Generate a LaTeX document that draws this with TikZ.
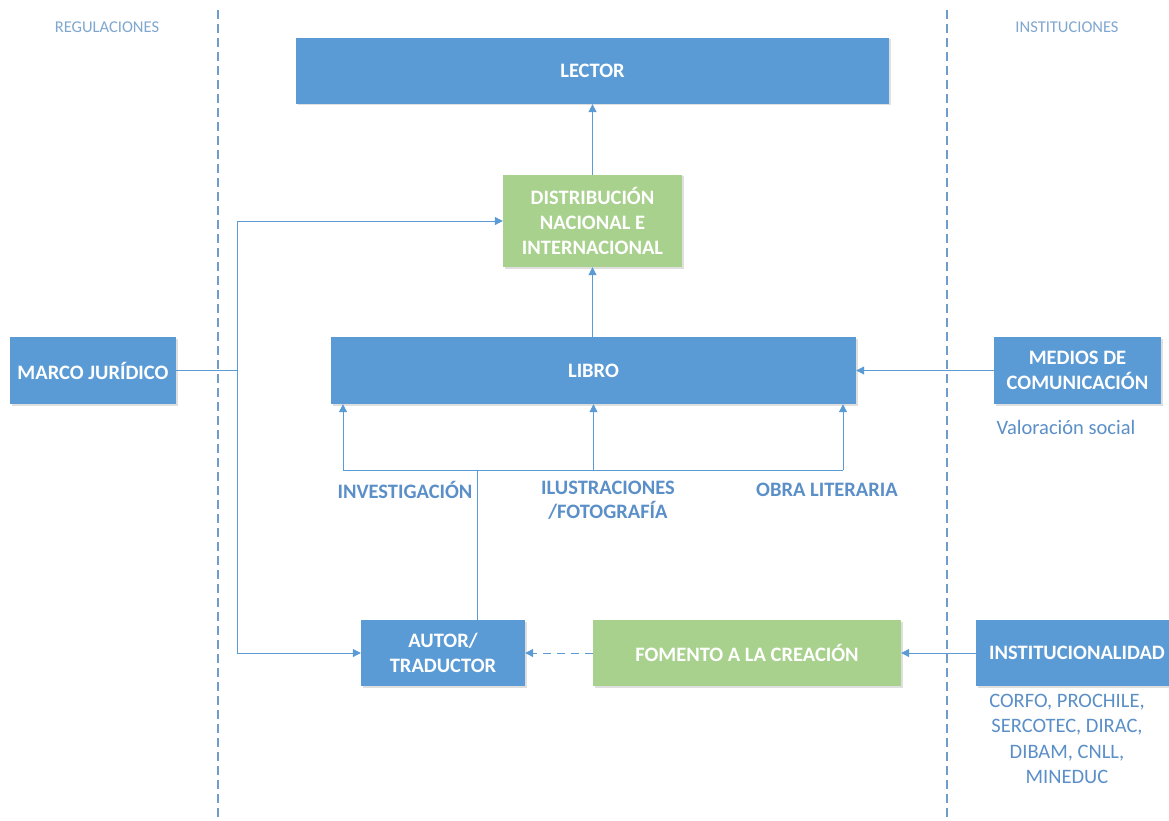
\documentclass[tikz,border=0pt]{standalone}
\usepackage{fontspec}
\setmainfont{Carlito}
\usetikzlibrary{arrows.meta,shadows}
\definecolor{cblue}{HTML}{5B9BD5}
\definecolor{cgreen}{HTML}{A9D18E}
\definecolor{lblue}{HTML}{7FA7CF}
\definecolor{tblue}{HTML}{5B8FC8}
\definecolor{sepc}{HTML}{6F9CCB}
\tikzset{
 box/.style={fill=cblue, text=white, font=\bfseries\fontsize{20.5}{25}\selectfont, align=center, inner sep=0pt,
   drop shadow={opacity=0.25,shadow xshift=1.5pt,shadow yshift=-1.5pt}},
 gbox/.style={box, fill=cgreen},
 conn/.style={draw=cblue, line width=1pt},
 arr/.style={conn, -{Triangle[width=8pt,length=8pt]}},
 sep/.style={draw=sepc, line width=1.2pt, dash pattern=on 9pt off 5pt},
 lab/.style={text=tblue, font=\bfseries\fontsize{20.5}{24}\selectfont, align=center},
 note/.style={text=tblue, font=\fontsize{20.5}{25.5}\selectfont, align=center},
 head/.style={text=lblue, font=\fontsize{16.5}{18}\selectfont}
}
\begin{document}
\begin{tikzpicture}[x=1pt,y=-1pt]
\clip (0,0) rectangle (1169,821);
\fill[white] (0,0) rectangle (1169,821);
% separators
\draw[sep] (218,10) -- (218,821);
\draw[sep] (947,10) -- (947,821);
\node[head] (hreg) at (107,27) {REGULACIONES};
\node[head] (hins) at (1067,27) {INSTITUCIONES};
% boxes
\node[box, minimum width=593pt, minimum height=66pt] (lector) at (592.5,71) {LECTOR};
\node[gbox, minimum width=179pt, minimum height=92pt] (dist) at (592.5,221) {DISTRIBUCIÓN\\NACIONAL E\\INTERNACIONAL};
\node[box, minimum width=525pt, minimum height=67pt] (libro) at (593.5,370.5) {LIBRO};
\node[box, minimum width=166pt, minimum height=67pt] (marco) at (93,370.5) {MARCO JURÍDICO};
\node[box, minimum width=167pt, minimum height=67pt] (medios) at (1077.5,370.5) {MEDIOS DE\\COMUNICACIÓN};
\node[box, minimum width=164pt, minimum height=66pt] (autor) at (443,653) {AUTOR/\\TRADUCTOR};
\node[gbox, minimum width=308pt, minimum height=66pt] (fomento) at (747,653) {FOMENTO A LA CREACIÓN};
\node[box, minimum width=202pt, minimum height=66pt] (inst) at (1077,653) {INSTITUCIONALIDAD};
% notes
\node[note] (val) at (1066,427) {Valoración social};
\node[note] (corfo) at (1067,739) {CORFO, PROCHILE,\\SERCOTEC, DIRAC,\\DIBAM, CNLL,\\MINEDUC};
% connectors
\draw[arr] (dist.north) -- (lector.south);
\draw[arr] (dist.south |- libro.north) -- (dist.south);
\coordinate (jx) at (237,370.5);
\draw[conn] (marco.east) -- (jx);
\draw[arr] (jx) |- (dist.west);
\draw[arr] (jx) |- (autor.west);
\draw[arr] (medios.west) -- (libro.east);
\draw[arr] (inst.west) -- (fomento.east);
\draw[arr, dash pattern=on 8pt off 6pt] (fomento.west) -- (autor.east);
\coordinate (bus) at (477,470);
\coordinate (bl) at (343,470);
\coordinate (br) at (843,470);
\draw[conn] (autor.north -| bus) -- (bus);
\draw[conn] (bl) -- (br);
\draw[arr] (bl) -- (bl |- libro.south);
\draw[arr] (libro.south |- bl) -- (libro.south);
\draw[arr] (br) -- (br |- libro.south);
% labels
\node[lab] (inv) at (405,490) {INVESTIGACIÓN};
\node[lab] (ilu) at (608,500) {ILUSTRACIONES\\/FOTOGRAFÍA};
\node[lab] (obra) at (827,490) {OBRA LITERARIA};
\end{tikzpicture}
\end{document}
